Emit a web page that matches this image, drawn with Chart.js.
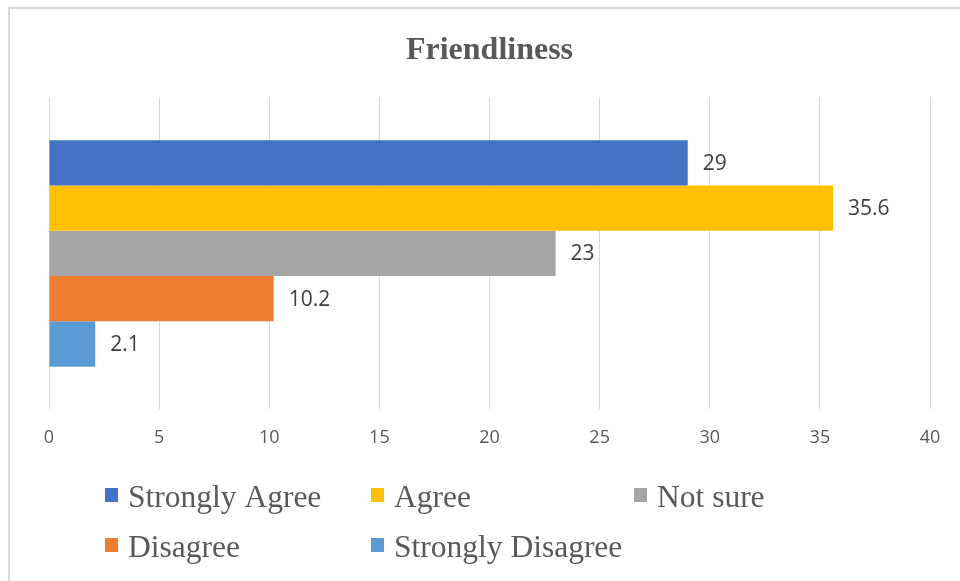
<!DOCTYPE html>
<html>
<head>
<meta charset="utf-8">
<script src="https://cdn.jsdelivr.net/npm/chart.js@4/dist/chart.umd.min.js"></script>
<style>
  html, body { margin: 0; padding: 0; background: #ffffff; }
  #wrap { width: 960px; height: 581px; position: relative; }
</style>
</head>
<body>
<div id="wrap"><canvas id="chart" width="960" height="581"></canvas></div>
<script>
// Survey responses for "Friendliness" (percent)
const categories = ['Friendliness'];
const seriesNames = ['Strongly Agree', 'Agree', 'Not sure', 'Disagree', 'Strongly Disagree'];
const seriesValues = [29, 35.6, 23, 10.2, 2.1];
const seriesColors = ['#4472C4', '#FFC000', '#A5A5A5', '#ED7D31', '#5B9BD5'];
const xTicks = [0, 5, 10, 15, 20, 25, 30, 35, 40];

const datasets = seriesNames.map((name, i) => ({
  label: name,
  data: [seriesValues[i]],
  backgroundColor: seriesColors[i],
  borderWidth: 0,
  categoryPercentage: 0.726,
  barPercentage: 1.0
}));

// Light frame along the top and left edge
const framePlugin = {
  id: 'frame',
  beforeDraw(chart) {
    const ctx = chart.ctx;
    ctx.save();
    ctx.fillStyle = '#ffffff';
    ctx.fillRect(0, 0, chart.width, chart.height);
    ctx.fillStyle = '#d9d9d9';
    ctx.fillRect(8, 7, chart.width - 8, 2);
    ctx.fillRect(8, 7, 2, chart.height - 7);
    ctx.restore();
  }
};

// Value labels just past the end of each bar
const valueLabelPlugin = {
  id: 'valueLabels',
  afterDatasetsDraw(chart) {
    const ctx = chart.ctx;
    ctx.save();
    ctx.font = '21px "Open Sans", sans-serif';
    ctx.fillStyle = '#404040';
    ctx.textAlign = 'left';
    ctx.textBaseline = 'middle';
    chart.data.datasets.forEach((ds, i) => {
      const meta = chart.getDatasetMeta(i);
      meta.data.forEach((bar, j) => {
        ctx.fillText(String(ds.data[j]), bar.x + 15, bar.y + 1);
      });
    });
    ctx.restore();
  }
};

// Legend laid out on a three-column grid below the axis
const gridLegendPlugin = {
  id: 'gridLegend',
  afterDraw(chart) {
    const ctx = chart.ctx;
    const colX = [105, 371, 634];
    const rowY = [507, 557];
    const box = 13;
    ctx.save();
    ctx.font = '31.5px "Liberation Serif", "Times New Roman", serif';
    ctx.textAlign = 'left';
    ctx.textBaseline = 'alphabetic';
    chart.data.datasets.forEach((ds, i) => {
      const x = colX[i % 3];
      const y = rowY[Math.floor(i / 3)];
      ctx.fillStyle = ds.backgroundColor;
      ctx.fillRect(x, y - 19, box, box + 1);
      ctx.fillStyle = '#595959';
      ctx.fillText(ds.label, x + 23, y);
    });
    ctx.restore();
  }
};

new Chart(document.getElementById('chart'), {
  type: 'bar',
  data: { labels: categories, datasets },
  options: {
    indexAxis: 'y',
    responsive: false,
    animation: false,
    layout: { padding: { left: 49, right: 30, top: 0, bottom: 114 } },
    scales: {
      x: {
        min: xTicks[0],
        max: xTicks[xTicks.length - 1],
        afterBuildTicks(axis) { axis.ticks = xTicks.map(v => ({ value: v })); },
        grid: { color: '#d9d9d9', lineWidth: 1, drawTicks: false },
        border: { display: false },
        ticks: {
          color: '#595959',
          padding: 18,
          font: { family: '"Open Sans", sans-serif', size: 18 }
        }
      },
      y: { display: false }
    },
    plugins: {
      legend: { display: false },
      tooltip: { enabled: false },
      title: {
        display: true,
        text: 'Friendliness',
        color: '#595959',
        font: { family: '"Liberation Serif", "Times New Roman", serif', size: 32, weight: 'bold' },
        padding: { top: 32, bottom: 27 }
      }
    }
  },
  plugins: [framePlugin, valueLabelPlugin, gridLegendPlugin]
});
</script>
</body>
</html>
